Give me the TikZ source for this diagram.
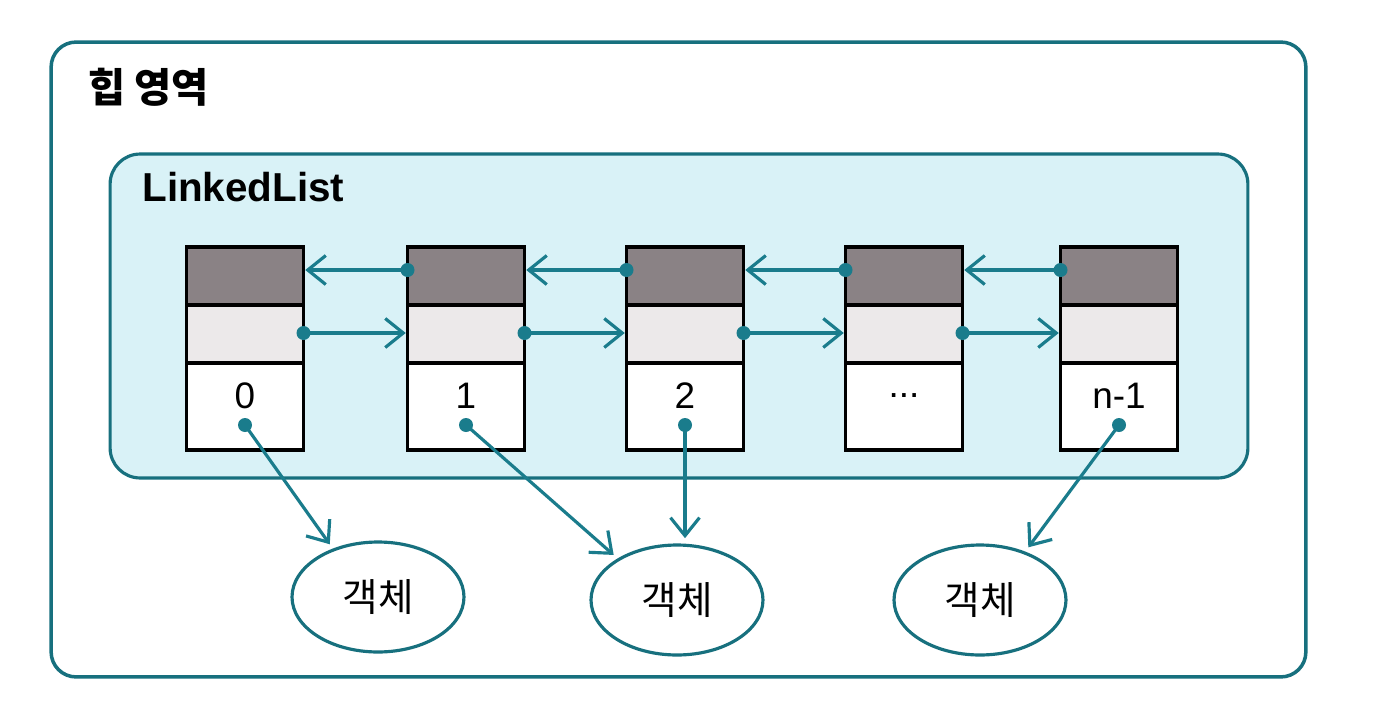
\documentclass[tikz,border=0pt]{standalone}
\usepackage{fontspec}
\setmainfont{Liberation Sans}
\newfontfamily\kr{Noto Sans CJK KR}
\usetikzlibrary{arrows.meta,shapes.geometric}
\definecolor{tealline}{HTML}{1A7C8C}
\definecolor{tealdark}{HTML}{17707E}
\definecolor{listfill}{HTML}{D9F2F7}
\definecolor{darkcell}{HTML}{8A8285}
\definecolor{lightcell}{HTML}{ECE9EA}
\newcommand\mythreedots{...}
\begin{document}
\begin{tikzpicture}[x=0.02cm,y=-0.02cm,
  heapbox/.style={draw=tealdark,line width=2pt,rounded corners=0.5cm,minimum width=25.1cm,minimum height=12.7cm,inner sep=0},
  listbox/.style={draw=tealdark,fill=listfill,line width=1.8pt,rounded corners=0.6cm,minimum width=22.76cm,minimum height=6.48cm,inner sep=0},
  cell/.style={draw=black,line width=2pt,minimum width=2.34cm,inner sep=0},
  topcell/.style={cell,fill=darkcell,minimum height=1.16cm},
  midcell/.style={cell,fill=lightcell,minimum height=1.16cm},
  botcell/.style={cell,fill=white,minimum height=1.74cm},
  numtxt/.style={inner sep=0,font=\fontsize{21}{24}\selectfont},
  obj/.style={ellipse,draw=tealdark,line width=1.8pt,fill=white,minimum width=3.44cm,minimum height=2.2cm,inner sep=0,font=\kr\fontsize{22}{26}\selectfont},
  conn/.style={draw=tealline,line width=1.8pt,-{Straight Barb[length=3.6mm,width=5.8mm,line width=1.8pt]}},
  dotr/.style={fill=tealline}
]
\useasboundingbox (0,0) rectangle (1373,717);
\fill[white] (0,0) rectangle (1373,717);

\node[heapbox] (heap) at (678.5,359.5) {};
\node[listbox] (list) at (679,316) {};

\node[anchor=west,inner sep=0,font=\kr\bfseries\fontsize{23}{27}\selectfont] (heaptitle) at (88,87) {힙 영역};
\node[anchor=west,inner sep=0,font=\bfseries\fontsize{23}{27}\selectfont] (listtitle) at (142,187) {LinkedList};

\foreach \i/\x/\lab in {0/245/0,1/466/1,2/685/2,3/904/\mythreedots,4/1119/n-1}{
  \node[topcell] (t\i) at (\x,276) {};
  \node[midcell] (m\i) at (\x,334) {};
  \node[botcell] (b\i) at (\x,406.5) {};
  \node[numtxt] (l\i) at (\x,396) {\lab};
  \coordinate (bk\i) at (\x-58.5,270);
  \coordinate (fw\i) at (\x+58.5,333);
  \coordinate (d\i) at (\x,425);
}

\node[obj] (e1) at (378,597) {객체};
\node[obj] (e2) at (677,600) {객체};
\node[obj] (e3) at (980,600) {객체};

% links between nodes
\foreach \a/\b in {0/1,1/2,2/3,3/4}{
  \draw[conn] (bk\b) -- (bk\b -| t\a.east);
  \draw[conn] (fw\a) -- (fw\a -| m\b.west);
}
% element references
\draw[conn,shorten >=3pt] (d0) -- (e1.133);
\draw[conn,shorten >=3pt] (d1) -- (e2.145);
\draw[conn,shorten >=3pt] (d2) -- (d2 |- e2.north);
\draw[conn,shorten >=3pt] (d4) -- (e3.47);

% dots
\foreach \i in {1,2,3,4}{\fill[dotr] (bk\i) circle (0.14cm);}
\foreach \i in {0,1,2,3}{\fill[dotr] (fw\i) circle (0.14cm);}
\foreach \i in {0,1,2,4}{\fill[dotr] (d\i) circle (0.14cm);}
\end{tikzpicture}
\end{document}
